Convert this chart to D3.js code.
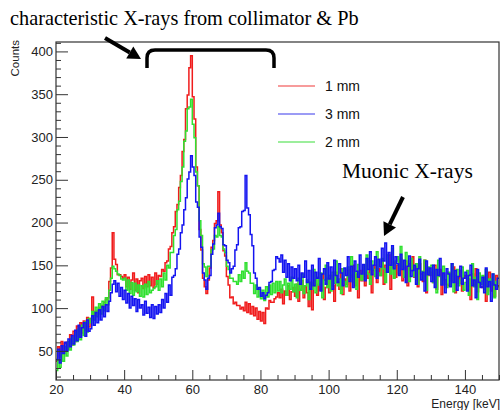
<!DOCTYPE html>
<html>
<head>
<meta charset="utf-8">
<script src="https://cdn.jsdelivr.net/npm/d3@7"></script>
<style>
  body { margin: 0; background: #fff; }
</style>
</head>
<body>
<script>
// histogram bins: 0.5 keV wide, first bin starts at 20 keV
const eStart = 20, binWidth = 0.5;

const counts1mm = [
  38, 55, 43, 61, 47, 59, 60, 52, 69, 57,
  73, 61, 79, 67, 83, 71, 85, 74, 89, 78,
  88, 113, 92, 96, 97, 100, 101, 103, 107, 110,
  112, 131, 147, 188, 157, 151, 139, 139, 137, 135,
  139, 125, 136, 122, 133, 141, 121, 134, 118, 132,
  135, 123, 137, 125, 139, 126, 136, 124, 141, 128,
  138, 137, 145, 143, 153, 155, 169, 172, 188, 195,
  213, 221, 241, 255, 283, 297, 333, 349, 381, 395,
  347, 321, 265, 243, 192, 168, 135, 125, 117, 133,
  147, 171, 179, 199, 202, 236, 197, 188, 167, 161,
  137, 127, 112, 113, 105, 107, 103, 103, 99, 101,
  97, 107, 95, 105, 93, 102, 91, 100, 87, 96,
  85, 95, 82, 100, 99, 109, 107, 107, 111, 113,
  118, 112, 122, 105, 120, 115, 126, 110, 119, 124,
  114, 128, 108, 122, 132, 112, 125, 118, 102, 130,
  98, 126, 133, 115, 128, 121, 140, 110, 124, 135,
  118, 138, 126, 108, 142, 130, 122, 146, 116, 134,
  128, 145, 120, 138, 150, 126, 140, 112, 144, 132,
  148, 126, 142, 135, 155, 118, 144, 150, 130, 146,
  138, 156, 128, 150, 142, 162, 122, 148, 153, 136,
  150, 140, 158, 132, 147, 155, 126, 152, 144, 160,
  136, 148, 125, 152, 140, 131, 156, 118, 145, 138,
  142, 130, 150, 122, 138, 145, 116, 140, 133, 128,
  126, 141, 132, 148, 118, 137, 129, 144, 120, 135,
  138, 122, 134, 110, 140, 127, 146, 119, 131, 125,
  124, 136, 108, 132, 142, 120, 129, 114, 138, 126
];

const counts2mm = [
  27, 40, 31, 47, 38, 55, 44, 61, 51, 65,
  57, 71, 61, 76, 63, 80, 68, 84, 72, 88,
  83, 96, 86, 101, 90, 105, 93, 108, 97, 112,
  104, 121, 135, 149, 146, 143, 140, 138, 134, 133,
  135, 121, 133, 117, 130, 115, 129, 119, 127, 114,
  126, 113, 128, 116, 131, 118, 121, 123, 125, 132,
  121, 134, 125, 141, 133, 150, 147, 165, 165, 185,
  192, 215, 225, 248, 265, 295, 307, 333, 335, 344,
  315, 299, 259, 243, 202, 185, 152, 148, 137, 149,
  149, 168, 169, 185, 183, 195, 185, 183, 169, 165,
  149, 145, 135, 135, 131, 131, 128, 139, 131, 143,
  135, 153, 143, 141, 129, 129, 117, 127, 113, 122,
  111, 121, 109, 125, 113, 127, 116, 129, 118, 131,
  120, 131, 118, 127, 134, 115, 129, 122, 136, 119,
  128, 112, 135, 121, 140, 117, 126, 133, 110, 130,
  122, 145, 118, 136, 127, 141, 112, 133, 150, 124,
  138, 120, 142, 129, 155, 126, 134, 117, 146, 131,
  125, 148, 136, 160, 130, 142, 122, 151, 139, 133,
  150, 134, 162, 140, 128, 155, 145, 137, 166, 141,
  138, 158, 146, 130, 162, 151, 140, 170, 135, 155,
  160, 142, 172, 148, 136, 165, 150, 131, 158, 144,
  137, 152, 128, 160, 143, 134, 156, 121, 148, 139,
  150, 130, 145, 118, 156, 137, 128, 149, 133, 124,
  142, 127, 152, 119, 138, 145, 126, 133, 148, 121,
  130, 144, 115, 139, 152, 125, 136, 110, 141, 128,
  138, 122, 145, 116, 134, 127, 140, 112, 131, 125
];

const counts3mm = [
  40, 52, 36, 56, 47, 60, 50, 64, 55, 68,
  58, 74, 62, 80, 66, 77, 83, 67, 86, 73,
  76, 91, 80, 95, 83, 98, 86, 102, 90, 104,
  96, 108, 118, 128, 132, 119, 129, 114, 124, 110,
  121, 106, 117, 100, 114, 103, 111, 96, 110, 100,
  104, 92, 108, 94, 101, 89, 104, 88, 102, 93,
  104, 95, 110, 100, 117, 107, 127, 115, 136, 138,
  146, 163, 169, 188, 197, 215, 229, 251, 259, 278,
  265, 255, 224, 218, 183, 171, 141, 133, 122, 135,
  138, 163, 175, 194, 197, 211, 195, 193, 174, 173,
  156, 153, 141, 146, 149, 168, 174, 194, 195, 213,
  214, 255, 217, 209, 186, 173, 141, 135, 122, 124,
  114, 118, 111, 115, 118, 130, 131, 144, 145, 160,
  158, 154, 162, 142, 156, 136, 152, 132, 148, 135,
  146, 132, 150, 128, 141, 136, 155, 130, 144, 122,
  150, 126, 142, 135, 158, 120, 140, 146, 128, 153,
  134, 148, 122, 156, 138, 130, 152, 141, 126, 147,
  138, 160, 131, 149, 124, 155, 143, 136, 162, 140,
  151, 132, 158, 145, 166, 139, 150, 160, 135, 157,
  148, 170, 155, 176, 142, 165, 150, 173, 146, 160,
  152, 138, 163, 145, 156, 130, 149, 161, 137, 144,
  150, 128, 146, 157, 133, 142, 120, 155, 139, 147,
  131, 150, 124, 145, 138, 158, 127, 141, 118, 146,
  140, 125, 152, 130, 144, 121, 137, 149, 128, 135,
  142, 120, 138, 150, 126, 133, 112, 145, 130, 124,
  136, 118, 147, 125, 131, 108, 140, 127, 122, 135
];

const legendOrder = ["1 mm", "3 mm", "2 mm"];
const xTicks = [20, 40, 60, 80, 100, 120, 140];
const yTicks = [50, 100, 150, 200, 250, 300, 350, 400];

const width = 501, height = 410;
const sans = "Liberation Sans, Arial, sans-serif";
const serif = "Liberation Serif, Times New Roman, serif";
const colors = {"1 mm": "#f01c1c", "2 mm": "#2fe02f", "3 mm": "#1414f0"};
const legendColors = {"1 mm": "#f57a7a", "2 mm": "#7be87b", "3 mm": "#7a7af2"};

const x = d3.scaleLinear().domain([20, 150]).range([56, 499]);
const y = d3.scaleLinear().domain([16, 411]).range([380, 42]);

const svg = d3.select("body").append("svg")
    .attr("width", width)
    .attr("height", height)
    .attr("font-family", sans);

svg.append("clipPath").attr("id", "plotclip")
  .append("rect")
    .attr("x", x(20)).attr("y", y(411))
    .attr("width", x(150) - x(20)).attr("height", y(16) - y(411));

// series, drawn as step histograms
const toBins = arr => {
  const pts = arr.map((v, i) => [eStart + i * binWidth, v]);
  pts.push([eStart + arr.length * binWidth, arr[arr.length - 1]]);
  return pts;
};
const line = d3.line()
    .x(d => x(d[0]))
    .y(d => y(d[1]))
    .curve(d3.curveStepAfter);

const data = {"1 mm": counts1mm, "2 mm": counts2mm, "3 mm": counts3mm};
const g = svg.append("g").attr("clip-path", "url(#plotclip)");
["1 mm", "2 mm", "3 mm"].forEach(name => {
  g.append("path")
      .datum(toBins(data[name]))
      .attr("fill", "none")
      .attr("stroke", colors[name])
      .attr("stroke-width", 1.5)
      .attr("d", line);
});

// axes, ROOT style: ticks inside the frame
const xMinor = d3.range(20, 151, 5).filter(v => !xTicks.includes(v));
const yMinor = d3.range(20, 411, 10).filter(v => !yTicks.includes(v));

svg.append("g")
    .attr("transform", `translate(0,${y(16)})`)
    .call(d3.axisBottom(x).tickValues(xMinor).tickSizeInner(-5).tickSizeOuter(0).tickFormat(""))
    .call(a => a.select(".domain").remove());
svg.append("g")
    .attr("transform", `translate(0,${y(16)})`)
    .call(d3.axisBottom(x).tickValues(xTicks).tickSizeInner(-10).tickSizeOuter(0).tickPadding(5))
    .call(a => a.select(".domain").remove())
    .call(a => a.selectAll("text").attr("font-size", 13).attr("fill", "#222").attr("font-family", sans));

svg.append("g")
    .attr("transform", `translate(${x(20)},0)`)
    .call(d3.axisLeft(y).tickValues(yMinor).tickSizeInner(-5).tickSizeOuter(0).tickFormat(""))
    .call(a => a.select(".domain").remove());
svg.append("g")
    .attr("transform", `translate(${x(20)},0)`)
    .call(d3.axisLeft(y).tickValues(yTicks).tickSizeInner(-12).tickSizeOuter(0).tickPadding(3))
    .call(a => a.select(".domain").remove())
    .call(a => a.selectAll("text").attr("font-size", 13).attr("fill", "#222").attr("font-family", sans));

svg.selectAll(".tick line").attr("stroke", "#333");

svg.append("rect")
    .attr("x", x(20)).attr("y", y(411))
    .attr("width", x(150) - x(20)).attr("height", y(16) - y(411))
    .attr("fill", "none")
    .attr("stroke", "#333")
    .attr("stroke-width", 1.2);

svg.append("text")
    .attr("transform", "translate(19,40) rotate(-90)")
    .attr("text-anchor", "end")
    .attr("font-size", 11.5)
    .attr("fill", "#222")
    .text("Counts");

svg.append("text")
    .attr("x", 500).attr("y", 408)
    .attr("text-anchor", "end")
    .attr("font-size", 12)
    .attr("fill", "#222")
    .text("Energy [keV]");

// legend (no box)
const legend = svg.append("g");
legendOrder.forEach((name, i) => {
  const ly = 86 + i * 28;
  legend.append("line")
      .attr("x1", 278).attr("x2", 315)
      .attr("y1", ly).attr("y2", ly)
      .attr("stroke", legendColors[name])
      .attr("stroke-width", 1.5);
  legend.append("text")
      .attr("x", 325).attr("y", ly)
      .attr("dy", "0.35em")
      .attr("font-size", 14)
      .attr("fill", "#111")
      .text(name);
});

// annotations
svg.append("text")
    .attr("x", 10).attr("y", 25)
    .attr("font-family", serif)
    .attr("font-size", 20.3)
    .attr("fill", "#000")
    .text("characteristic X-rays from collimator & Pb");

svg.append("text")
    .attr("x", 342).attr("y", 178)
    .attr("font-family", serif)
    .attr("font-size", 21.5)
    .attr("fill", "#000")
    .text("Muonic X-rays");

svg.append("path")
    .attr("d", "M147,68 V58 Q147,50 155,50 H266 Q274,50 274,58 V68")
    .attr("fill", "none")
    .attr("stroke", "#000")
    .attr("stroke-width", 3.5);

function arrow(x1, y1, x2, y2) {
  const ang = Math.atan2(y2 - y1, x2 - x1);
  const hl = 13, hw = 7;
  const bx = x2 - hl * Math.cos(ang), by = y2 - hl * Math.sin(ang);
  svg.append("line")
      .attr("x1", x1).attr("y1", y1).attr("x2", bx).attr("y2", by)
      .attr("stroke", "#000").attr("stroke-width", 4);
  const px = -Math.sin(ang) * hw, py = Math.cos(ang) * hw;
  svg.append("path")
      .attr("d", `M${x2},${y2} L${bx + px},${by + py} L${bx - px},${by - py} Z`)
      .attr("fill", "#000");
}
arrow(105, 38, 141, 59);
arrow(403, 197, 384, 236);
</script>
</body>
</html>
